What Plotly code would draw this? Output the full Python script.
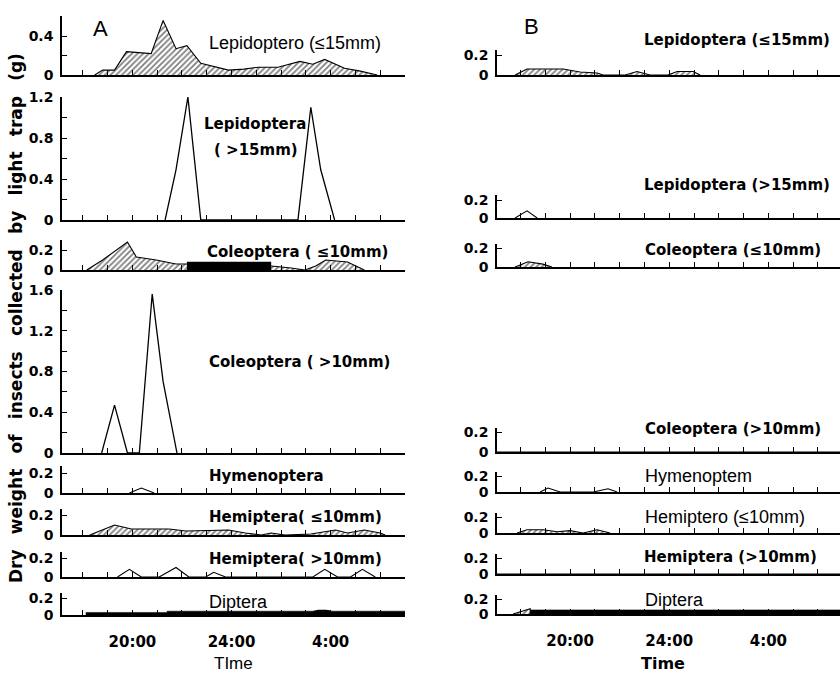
import plotly.graph_objects as go

W, H = 840, 673

# ---------------- data (time in hours; values > 24 are after midnight) ----------------
hour_ticks_A = list(range(18, 32))
hour_ticks_B = list(range(18, 31))
hour_labels = {20: "20:00", 24: "24:00", 28: "4:00"}

# Panel A
A_lep_s_t = [18.48, 18.8, 19.28, 19.76, 20.76, 21.24, 21.76, 22.2, 22.76, 23.28, 23.88, 24.5, 25.08, 25.88, 26.76, 27.28, 27.76, 28.56, 29.2, 29.88]
A_lep_s_v = [0, 0.05, 0.05, 0.24, 0.22, 0.56, 0.27, 0.30, 0.12, 0.09, 0.05, 0.06, 0.08, 0.08, 0.14, 0.11, 0.16, 0.07, 0.04, 0]

A_lep_l_t = [21.32, 21.76, 22.24, 22.76, 26.68, 27.2, 27.6, 28.16]
A_lep_l_v = [0, 0.49, 1.2, 0, 0, 1.1, 0.49, 0]

A_col_s_t = [18.16, 18.8, 19.8, 20.16, 20.96, 21.76, 22.2, 23.5, 24.5, 25.6, 26.4, 26.96, 27.4, 27.8, 28.68, 29.36]
A_col_s_v = [0, 0.1, 0.28, 0.13, 0.1, 0.06, 0.06, 0.05, 0.05, 0.04, 0.02, 0, 0.04, 0.1, 0.08, 0]
A_col_s_dark_t = [22.2, 25.6]
A_col_s_dark_v = [0.08, 0.08]

A_col_l_t = [18.76, 19.28, 19.8, 20.28, 20.8, 21.24, 21.8]
A_col_l_v = [0, 0.47, 0, 0, 1.56, 0.7, 0]

A_hym_t = [19.88, 20.36, 20.88]
A_hym_v = [0, 0.05, 0]

A_hem_s_t = [18.28, 19.28, 19.96, 20.96, 21.48, 22.16, 22.68, 23.88, 24.56, 25.2, 25.6, 26.16, 27.2, 28.2, 28.68, 29.36, 30.0, 30.2]
A_hem_s_v = [0, 0.1, 0.06, 0.06, 0.06, 0.04, 0.045, 0.05, 0.02, 0, 0.02, 0, 0.01, 0.05, 0.02, 0.05, 0.02, 0]

A_hem_l_t = [19.4, 19.88, 20.36, 21.08, 21.76, 22.28, 22.96, 23.28, 23.76, 27.28, 27.76, 28.28, 28.8, 29.28, 29.8]
A_hem_l_v = [0, 0.08, 0, 0, 0.1, 0, 0, 0.05, 0, 0, 0.08, 0, 0, 0.08, 0]

A_dip_t = [18.12, 21.4, 21.4, 31.0]
A_dip_v = [0.03, 0.03, 0.045, 0.045]
A_dip_b_t = [27.3, 27.5, 27.8, 28.0]
A_dip_b_v = [0.035, 0.05, 0.05, 0.04]

# Panel B
B_lep_s_t = [17.78, 18.26, 19.72, 20.4, 21.09, 21.33, 22.22, 22.7, 23.23, 23.95, 24.32, 24.96, 25.25]
B_lep_s_v = [0, 0.06, 0.06, 0.03, 0.02, 0, 0, 0.035, 0, 0, 0.035, 0.035, 0]

B_lep_l_t = [17.78, 18.26, 18.67]
B_lep_l_v = [0, 0.08, 0]

B_col_s_t = [17.78, 18.3, 18.9, 19.27]
B_col_s_v = [0, 0.055, 0.03, 0]

B_col_l_t = [17.05, 30.89]
B_col_l_v = [0, 0]

B_hym_t = [18.79, 19.11, 19.6, 20.93, 21.53, 21.9]
B_hym_v = [0, 0.05, 0, 0, 0.04, 0]

B_hem_s_t = [17.86, 18.26, 18.91, 19.48, 20.0, 20.52, 21.09, 21.61]
B_hem_s_v = [0, 0.04, 0.04, 0.015, 0.03, 0, 0.04, 0]

B_hem_l_t = [17.05, 30.89]
B_hem_l_v = [0, 0]

B_dip_hump_t = [17.7, 18.39, 18.39]
B_dip_hump_v = [0, 0.07, 0]
B_dip_t = [18.39, 30.89]
B_dip_v = [0.055, 0.055]

# ---------------- layout geometry (pixels) ----------------
A_X = (62, 405, 17.16, 31.0)
B_X = (497, 840, 17.05, 30.89)

def small(base, p02, top):
    k = (base - p02) / 0.2
    tv = (base - top) / k
    return (base, top, k, [0, 0.2, tv], ["0", "0.2", ""])

panels = {
    1: ("A", (75, 16, 97.5, [0, 0.2, 0.4, 0.6], ["0", "", "0.4", ""]), False),
    2: ("A", (220, 97, 102.5, [0, 0.2, 0.4, 0.6, 0.8, 1.0, 1.2], ["0", "", "0.4", "", "0.8", "", "1.2"]), False),
    3: ("A", (270, 240, 100, [0, 0.2, 0.3], ["0", "0.2", ""]), False),
    4: ("A", (453, 290, 101.875, [0, 0.2, 0.4, 0.6, 0.8, 1.0, 1.2, 1.4, 1.6], ["0", "", "0.4", "", "0.8", "", "1.2", "", "1.6"]), False),
    5: ("A", small(493, 473, 466), False),
    6: ("A", small(535, 515, 509), False),
    7: ("A", small(577, 558, 552), False),
    8: ("A", small(615, 598, 593), True),
    9: ("B", small(75, 55, 50), False),
    10: ("B", small(218, 200, 195), False),
    11: ("B", small(267, 248, 244), False),
    12: ("B", small(452, 432, 428), False),
    13: ("B", small(492, 476, 472), False),
    14: ("B", small(533, 517, 513), False),
    15: ("B", small(574, 558, 554), False),
    16: ("B", small(614, 599, 595), True),
}

fig = go.Figure()

HATCH = dict(shape="/", fgcolor="black", bgcolor="white", size=4, solidity=0.45)

def add(t, v, i, kind, width=1.1):
    kw = dict(x=t, y=v, mode="lines", xaxis=f"x{i}", yaxis=f"y{i}", showlegend=False,
              hoverinfo="skip")
    if kind == "hatch":
        kw.update(line=dict(color="black", width=width), fill="tozeroy", fillcolor="white",
                  fillpattern=HATCH)
    elif kind == "solid":
        kw.update(line=dict(color="black", width=0.5), fill="tozeroy", fillcolor="black")
    else:
        kw.update(line=dict(color="black", width=width))
    fig.add_trace(go.Scatter(**kw))

add(A_lep_s_t, A_lep_s_v, 1, "hatch")
add(A_lep_l_t, A_lep_l_v, 2, "line", 1.3)
add(A_col_s_t, A_col_s_v, 3, "hatch")
add(A_col_s_dark_t, A_col_s_dark_v, 3, "solid")
add(A_col_l_t, A_col_l_v, 4, "line", 1.3)
add(A_hym_t, A_hym_v, 5, "line")
add(A_hem_s_t, A_hem_s_v, 6, "hatch")
add(A_hem_l_t, A_hem_l_v, 7, "line")
add(A_dip_t, A_dip_v, 8, "solid")
add(A_dip_b_t, A_dip_b_v, 8, "line", 2)

add(B_lep_s_t, B_lep_s_v, 9, "hatch")
add(B_lep_l_t, B_lep_l_v, 10, "line")
add(B_col_s_t, B_col_s_v, 11, "hatch")
add(B_col_l_t, B_col_l_v, 12, "line")
add(B_hym_t, B_hym_v, 13, "line")
add(B_hem_s_t, B_hem_s_v, 14, "hatch")
add(B_hem_l_t, B_hem_l_v, 15, "line")
add(B_dip_hump_t, B_dip_hump_v, 16, "hatch")
add(B_dip_t, B_dip_v, 16, "solid")

TICKFONT = dict(family="DejaVu Sans", size=14, color="black", weight="bold")
layout = {}
for i, (side, (base, top, k, tv, tt), bottom) in panels.items():
    xl, xr, x0, x1 = A_X if side == "A" else B_X
    hticks = hour_ticks_A if side == "A" else hour_ticks_B
    layout[f"xaxis{i}"] = dict(
        domain=[xl / W, xr / W], range=[x0, x1], anchor=f"y{i}", automargin=False,
        showline=True, linecolor="black", linewidth=1.5, mirror=False,
        ticks="inside", ticklen=5, tickwidth=1.3, tickcolor="black",
        tickvals=hticks, ticktext=[hour_labels.get(h, "") for h in hticks],
        showticklabels=bottom, tickfont=dict(family="DejaVu Sans", size=15, color="black", weight="bold"),
        ticklabelstandoff=12,
        showgrid=False, zeroline=False, fixedrange=True,
    )
    topval = max((base - top) / k, max(tv))
    layout[f"yaxis{i}"] = dict(
        domain=[1 - base / H, 1 - top / H], range=[0, topval], anchor=f"x{i}", automargin=False,
        showline=True, linecolor="black", linewidth=1.5,
        ticks="inside", ticklen=5, tickwidth=1.3, tickcolor="black",
        tickvals=tv, ticktext=tt, tickfont=TICKFONT, ticklabelstandoff=4,
        showgrid=False, zeroline=False, fixedrange=True,
    )

annotations = []

def label(text, xpx, ypx, bold=True, size=15, anchor="left"):
    annotations.append(dict(
        text=text, xref="paper", yref="paper", x=xpx / W, y=1 - ypx / H,
        xanchor=anchor, yanchor="middle", showarrow=False,
        font=dict(family="DejaVu Sans" if bold else "Liberation Sans", size=size,
                  color="black", weight="bold" if bold else "normal"),
    ))

label("A", 100, 29, bold=False, size=22, anchor="center")
label("B", 531, 27, bold=False, size=22, anchor="center")

label("Lepidoptero (≤15mm)", 207, 43, bold=False, size=18)
label("Lepidoptera", 202, 124)
label("( >15mm)", 212, 150)
label("Coleoptera ( ≤10mm)", 205, 252)
label("Coleoptera ( >10mm)", 207, 362)
label("Hymenoptera", 207, 476)
label("Hemiptera( ≤10mm)", 207, 517)
label("Hemiptera( >10mm)", 207, 559)
label("Diptera", 207, 602, bold=False, size=18)

label("Lepidoptera (≤15mm)", 642, 40)
label("Lepidoptera (>15mm)", 642, 185)
label("Coleoptera (≤10mm)", 643, 250)
label("Coleoptera (>10mm)", 643, 429)
label("Hymenoptem", 643, 476, bold=False, size=18)
label("Hemiptero (≤10mm)", 643, 517, bold=False, size=18)
label("Hemiptera (>10mm)", 642, 557)
label("Diptera", 643, 600, bold=False, size=18)

label("TIme", 233, 663, bold=False, size=17, anchor="center")
label("Time", 663, 663, bold=True, size=16, anchor="center")

ytitle = "\u00a0\u00a0\u2009".join("Dry weight of insects collected by light trap (g)".split(" "))
annotations.append(dict(
    text=ytitle, xref="paper", yref="paper", x=16 / W, y=1 - 318 / H,
    xanchor="center", yanchor="middle", textangle=-90, showarrow=False,
    font=dict(family="DejaVu Sans", size=17, color="black", weight="bold"),
))

fig.update_layout(
    width=W, height=H, margin=dict(l=0, r=0, t=0, b=0, autoexpand=False),
    paper_bgcolor="white", plot_bgcolor="white",
    showlegend=False, annotations=annotations, **layout,
)

fig.write_html("out.html")
